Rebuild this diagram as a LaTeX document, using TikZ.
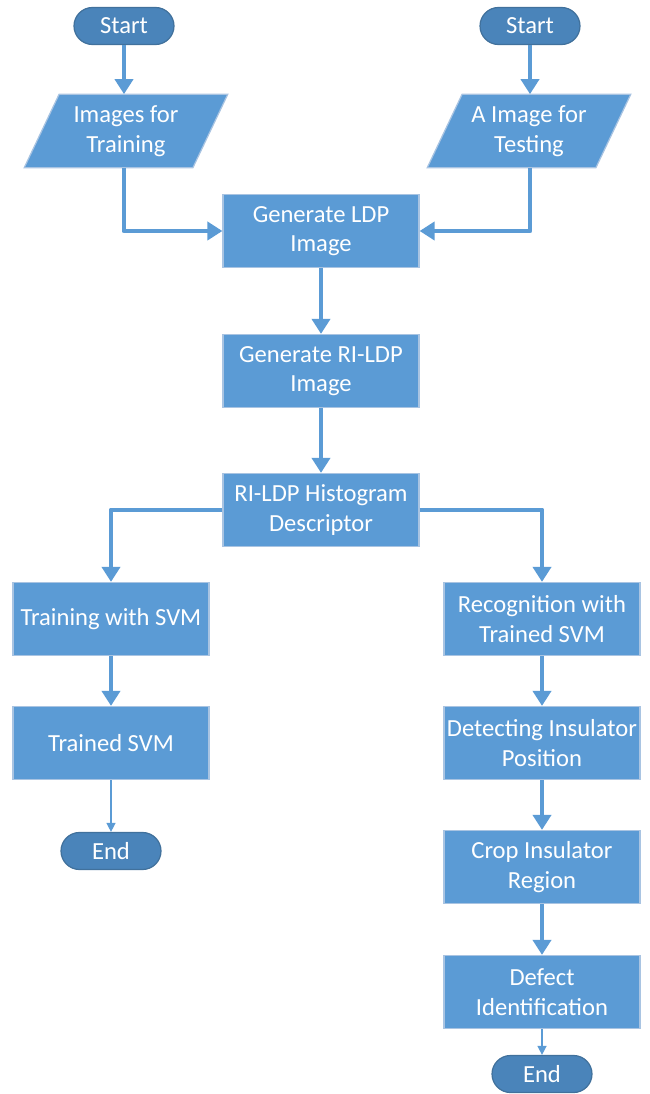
\documentclass[tikz,border=0pt]{standalone}
\usepackage{fontspec}
\setmainfont{Carlito}
\usetikzlibrary{arrows.meta,backgrounds}
\definecolor{boxblue}{HTML}{5B9BD5}
\definecolor{boxline}{HTML}{A9C4E2}
\definecolor{termblue}{HTML}{4A84BA}
\definecolor{termline}{HTML}{41719C}
\tikzset{
  procbox/.style={rectangle, fill=boxblue, draw=boxline, line width=0.7pt, text=white,
    minimum width=3.92cm, minimum height=1.46cm, align=center, inner sep=1pt,
    font=\fontsize{14}{16.8}\selectfont},
  databox/.style={rectangle, text=white, minimum width=3.36cm, minimum height=1.46cm,
    align=center, inner sep=1pt, font=\fontsize{14}{16.8}\selectfont},
  termbox/.style={rectangle, rounded corners=0.37cm, fill=termblue, draw=termline,
    line width=0.7pt, text=white, minimum width=2cm, minimum height=0.74cm,
    inner sep=1pt, font=\fontsize{14}{16.8}\selectfont},
  flowarrow/.style={draw=boxblue, line width=2.8pt, line join=round,
    -{Triangle[length=0.3cm,width=0.36cm]}},
  thinarrow/.style={draw=boxblue, line width=0.8pt,
    -{Triangle[length=0.18cm,width=0.18cm]}}
}
\begin{document}
\begin{tikzpicture}[x=0.02cm,y=-0.02cm]
	\useasboundingbox (0,0) rectangle (649,1094);
	% terminals and inputs
	\node[termbox] (startL) at (124,26) {Start};
	\node[termbox] (startR) at (530,26) {Start};
	\node[databox] (imgtrain) at (126,131) {Images for\\Training};
	\node[databox] (imgtest) at (529,131) {A Image for\\Testing};
	\begin{scope}[on background layer]
		\foreach \n in {imgtrain,imgtest}
			\draw[fill=boxblue, draw=boxline, line width=0.7pt]
				([xshift=0.35cm]\n.north west) -- ([xshift=0.35cm]\n.north east)
				-- ([xshift=-0.35cm]\n.south east) -- ([xshift=-0.35cm]\n.south west) -- cycle;
	\end{scope}
	% common steps
	\node[procbox] (ldp) at (321,231) {Generate LDP\\Image};
	\node[procbox] (rildp) at (321,371) {Generate RI-LDP\\Image};
	\node[procbox] (hist) at (321,510) {RI-LDP Histogram\\Descriptor};
	% training branch
	\node[procbox] (train) at (111,619) {Training with SVM};
	\node[procbox] (trained) at (111,743) {Trained SVM};
	\node[termbox] (endL) at (111,851) {End};
	% testing branch
	\node[procbox] (recog) at (542,619) {Recognition with\\Trained SVM};
	\node[procbox] (detect) at (542,743) {Detecting Insulator\\Position};
	\node[procbox] (crop) at (542,867) {Crop Insulator\\Region};
	\node[procbox] (defect) at (542,992) {Defect\\Identification};
	\node[termbox] (endR) at (542,1074) {End};

	\draw[flowarrow] (startL) -- (startL |- imgtrain.north);
	\draw[flowarrow] (startR) -- (startR |- imgtest.north);
	\draw[flowarrow] (startL |- imgtrain.south) |- (ldp.west);
	\draw[flowarrow] (startR |- imgtest.south) |- (ldp.east);
	\draw[flowarrow] (ldp) -- (rildp);
	\draw[flowarrow] (rildp) -- (hist);
	\draw[flowarrow] (hist.west) -| (train.north);
	\draw[flowarrow] (hist.east) -| (recog.north);
	\draw[flowarrow] (train) -- (trained);
	\draw[thinarrow] (trained) -- (endL);
	\draw[flowarrow] (recog) -- (detect);
	\draw[flowarrow] (detect) -- (crop);
	\draw[flowarrow] (crop) -- (defect);
	\draw[thinarrow] (defect) -- (endR);
\end{tikzpicture}
\end{document}
